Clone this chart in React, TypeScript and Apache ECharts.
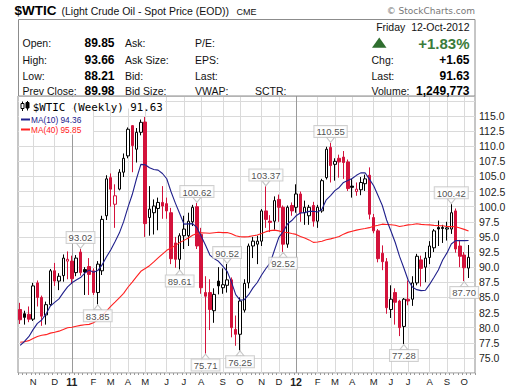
import React, { useEffect, useRef } from 'react';
import * as echarts from 'echarts';

// Weekly bars, each dated by the Monday of its week (first bar: week of 11-Oct-2010)
const firstMonday = [2010, 9, 11];
const barCount = 105;

const opens = [
  83.0, 82.3, 82.2, 81.4, 87.4, 85.0, 82.1, 83.8, 89.4, 87.7,
  88.6, 91.0, 91.0, 89.1, 92.5, 89.6, 90.1, 89.4, 85.8, 89.4,
  98.5, 104.8, 100.4, 102.9, 105.7, 108.4, 113.4, 109.5, 112.3, 114.0,
  98.2, 99.0, 99.7, 100.7, 100.5, 99.0, 94.0, 91.3, 95.2, 95.2,
  97.5, 100.0, 95.4, 85.8, 85.8, 82.8, 87.7, 86.6, 87.0, 87.9,
  79.7, 78.9, 82.9, 87.4, 93.5, 93.8, 94.3, 99.3, 97.6, 97.6,
  101.2, 99.9, 93.8, 100.2, 99.9, 102.1, 99.0, 98.5, 100.2, 97.6,
  99.3, 104.8, 109.8, 107.0, 108.0, 108.2, 107.4, 103.4, 102.5, 102.8,
  103.8, 105.2, 98.2, 96.0, 92.3, 90.9, 83.0, 85.8, 84.4, 80.2,
  84.7, 84.7, 87.4, 91.2, 90.0, 91.6, 93.2, 96.55, 96.55, 96.3,
  96.3, 99.3, 93.5, 92.0, 89.85,
];
const highs = [
  84.1, 82.8, 83.5, 87.4, 87.8, 85.3, 84.3, 89.7, 90.7, 89.0,
  92.1, 92.6, 91.9, 92.0, 93.02, 90.0, 91.5, 89.8, 91.0, 98.5,
  105.2, 105.5, 103.7, 106.2, 108.8, 113.1, 113.5, 113.0, 114.4, 114.83,
  103.4, 101.2, 101.5, 103.4, 101.5, 99.8, 95.0, 95.6, 98.5, 99.0,
  100.3, 100.62, 96.5, 88.5, 88.0, 86.5, 90.0, 89.8, 90.52, 88.3,
  82.0, 85.0, 88.0, 93.9, 95.0, 95.2, 99.6, 103.37, 98.6, 101.7,
  102.0, 100.2, 100.2, 100.7, 103.7, 102.5, 101.0, 100.3, 100.8, 100.3,
  104.6, 109.9, 110.55, 108.0, 108.6, 109.2, 107.8, 104.6, 104.0, 104.9,
  105.3, 106.5, 98.8, 96.3, 93.6, 91.5, 87.0, 86.5, 84.6, 84.9,
  87.8, 88.5, 92.2, 91.9, 92.5, 94.3, 96.3, 97.7, 97.0, 97.5,
  100.42, 99.7, 94.5, 92.5, 93.66,
];
const lows = [
  80.6, 80.5, 80.9, 81.1, 83.5, 80.3, 80.5, 83.6, 86.9, 86.2,
  87.6, 88.0, 87.2, 88.5, 88.6, 85.4, 85.4, 85.4, 83.85, 88.7,
  97.8, 100.0, 96.5, 102.7, 104.9, 108.0, 105.7, 107.3, 111.8, 95.0,
  95.2, 95.4, 96.1, 98.0, 98.0, 90.5, 89.9, 89.61, 93.0, 93.5,
  96.8, 93.0, 85.6, 75.71, 79.6, 80.8, 85.5, 85.6, 85.8, 78.4,
  77.0, 76.25, 82.5, 86.5, 91.5, 90.5, 93.5, 96.5, 95.8, 96.2,
  97.5, 92.52, 93.2, 98.5, 99.0, 97.5, 97.0, 97.0, 96.7, 96.5,
  99.0, 104.5, 104.0, 104.3, 104.8, 104.6, 102.6, 101.5, 101.8, 101.9,
  102.6, 97.9, 95.6, 90.8, 89.5, 82.3, 81.6, 80.5, 78.6, 77.28,
  83.7, 83.6, 87.0, 86.8, 87.5, 90.5, 92.5, 93.5, 94.0, 94.4,
  95.5, 92.4, 90.0, 87.70, 88.21,
];
const closes = [
  81.3, 81.7, 81.4, 86.9, 85.0, 81.9, 83.8, 89.4, 87.7, 88.5,
  91.5, 91.3, 88.1, 91.5, 89.1, 89.2, 88.8, 85.8, 90.5, 97.9,
  104.6, 102.9, 101.8, 105.7, 108.0, 112.8, 110.1, 112.3, 113.95, 97.2,
  99.6, 100.1, 100.7, 100.1, 99.3, 91.4, 91.3, 95.2, 96.3, 97.6,
  99.9, 93.5, 86.6, 85.2, 83.0, 85.5, 86.9, 87.1, 87.9, 80.0,
  78.9, 84.4, 87.3, 93.5, 94.3, 94.3, 99.3, 97.9, 97.4, 101.0,
  99.9, 93.8, 99.9, 99.3, 102.1, 99.0, 99.9, 99.9, 97.6, 99.9,
  104.3, 109.5, 106.8, 107.5, 107.4, 107.3, 103.0, 103.2, 102.9, 104.0,
  104.6, 98.75, 96.0, 91.4, 90.9, 83.3, 84.7, 84.2, 80.0, 84.7,
  84.4, 87.4, 91.8, 89.8, 91.5, 93.5, 96.0, 96.3, 96.4, 96.5,
  99.0, 93.0, 91.8, 89.9, 91.63,
];
// Weekly closes before the first visible bar (needed for the moving averages)
const priorCloses = [
  78.0, 74.54, 72.89, 71.19, 74.13, 79.81, 79.66, 81.5, 81.24, 80.68,
  80.0, 84.87, 84.92, 83.24, 85.12, 86.15, 75.11, 71.61, 70.04, 73.97,
  71.51, 73.78, 77.18, 78.86, 72.14, 76.09, 76.01, 78.98, 78.95, 80.7,
  75.39, 73.46, 75.17, 74.6, 76.45, 73.66, 76.49, 81.58, 82.66,
];

const calloutsAbove = [14, 41, 48, 57, 72, 100];
const calloutsBelow = [18, 37, 43, 51, 61, 89, 103];

const monthLetters = ['J', 'F', 'M', 'A', 'M', 'J', 'J', 'A', 'S', 'O', 'N', 'D'];

const headerLeft = [
  ['Open:', '89.85', 'Ask:', 'P/E:', ''],
  ['High:', '93.66', 'Ask Size:', 'EPS:', ''],
  ['Low:', '88.21', 'Bid:', 'Last:', ''],
  ['Prev Close:', '89.98', 'Bid Size:', 'VWAP:', 'SCTR:'],
];
const headerRight = [
  ['Chg:', '+1.65'],
  ['Last:', '91.63'],
  ['Volume:', '1,249,773'],
];
const legendRows = ['$WTIC (Weekly) 91.63', 'MA(10) 94.36', 'MA(40) 95.85'];

const RED = '#d3123b';
const BLUE = '#20208c';
const MA_RED = '#ff2020';

function buildWeeks(): { key: string; month: number; year: number }[] {
  const out: { key: string; month: number; year: number }[] = [];
  const t0 = Date.UTC(firstMonday[0], firstMonday[1], firstMonday[2]);
  for (let i = 0; i < barCount; i++) {
    const d = new Date(t0 + i * 7 * 86400000);
    out.push({ key: d.toISOString().slice(0, 10), month: d.getUTCMonth(), year: d.getUTCFullYear() });
  }
  return out;
}

function movingAverage(n: number): (number | null)[] {
  const all = [...priorCloses, ...closes];
  return closes.map((_, i) => {
    const end = priorCloses.length + i;
    if (end - n + 1 < 0) return null;
    let s = 0;
    for (let k = end - n + 1; k <= end; k++) s += all[k];
    return +(s / n).toFixed(2);
  });
}

const FONT = '"Liberation Sans", Arial, sans-serif';

function txt(text: string, x: number, y: number, font: string, fill = '#111', align = 'left', z = 10) {
  return {
    type: 'text',
    x,
    y,
    z,
    silent: true,
    style: { text, font, fill, align, verticalAlign: 'middle', textAlign: align, textVerticalAlign: 'middle' },
  };
}

export default function App() {
  const ref = useRef<HTMLDivElement>(null);

  useEffect(() => {
    if (!ref.current) return;
    const chart = echarts.init(ref.current, undefined, { renderer: 'svg' });
    const weeks = buildWeeks();
    const cats = [...weeks.map((w) => w.key), 'pad'];
    const monthStart = cats.map((_, i) => i > 0 && i < weeks.length && weeks[i].month !== weeks[i - 1].month);

    const candleData = closes.map((c, i) => {
      const o = opens[i];
      const prev = i === 0 ? priorCloses[priorCloses.length - 1] : closes[i - 1];
      const col = c < prev ? RED : '#000';
      const hollow = c >= o;
      return {
        value: [o, c, lows[i], highs[i]],
        itemStyle: {
          color: hollow ? '#fff' : col,
          color0: hollow ? '#fff' : col,
          borderColor: col,
          borderColor0: col,
          borderWidth: 1,
        },
      };
    });

    const ma10 = movingAverage(10);
    const ma40 = movingAverage(40);

    const gridLines = cats
      .map((k, i) => (monthStart[i] ? { xAxis: k, lineStyle: { color: weeks[i].month === 0 ? '#9a9a9a' : '#dadada', width: 1, type: 'solid' } } : null))
      .filter(Boolean);

    const calloutLabel = {
      show: true,
      fontSize: 9.5,
      fontFamily: FONT,
      color: '#222',
      backgroundColor: '#fff',
      borderColor: '#c4c4c4',
      borderWidth: 1,
      padding: [1, 2, 0, 2],
      distance: 0,
    };
    const callouts = [
      ...calloutsAbove.map((i) => ({
        value: [i, highs[i]],
        symbolRotate: 180,
        symbolOffset: [0, -3],
        label: { ...calloutLabel, position: 'top', formatter: highs[i].toFixed(2) },
      })),
      ...calloutsBelow.map((i) => ({
        value: [i, lows[i]],
        symbolRotate: 0,
        symbolOffset: [0, 3],
        label: { ...calloutLabel, position: 'bottom', formatter: lows[i].toFixed(2) },
      })),
    ];

    const graphic: any[] = [];
    // title line
    graphic.push(txt('$WTIC', 14.5, 10.5, `bold 13.5px ${FONT}`, '#000'));
    graphic.push(txt('(Light Crude Oil - Spot Price (EOD))', 61.5, 11, `10.5px ${FONT}`, '#111'));
    graphic.push(txt('CME', 236.5, 11.5, `9px ${FONT}`, '#111'));
    graphic.push(txt('© StockCharts.com', 475, 11, '9px "DejaVu Sans", sans-serif', '#777', 'right'));
    // header box
    graphic.push({
      type: 'rect',
      z: 5,
      silent: true,
      shape: { x: 18.5, y: 19.5, width: 456.5, height: 76.5 },
      style: { fill: '#fff', stroke: '#8c8c8c', lineWidth: 1 },
    });
    const rowY = [43, 59.7, 76.3, 91.3];
    headerLeft.forEach((row, r) => {
      graphic.push(txt(row[0], 22.5, rowY[r], `10.5px ${FONT}`));
      graphic.push(txt(row[1], 114.5, rowY[r], `bold 12px ${FONT}`, '#000', 'right'));
      graphic.push(txt(row[2], 125, rowY[r], `10.5px ${FONT}`));
      graphic.push(txt(row[3], 195, rowY[r], `10.5px ${FONT}`));
      if (row[4]) graphic.push(txt(row[4], 255, rowY[r], `10.5px ${FONT}`));
    });
    graphic.push(txt('Friday  12-Oct-2012', 469.5, 26.8, `10.5px ${FONT}`, '#111', 'right'));
    graphic.push({
      type: 'polygon',
      z: 10,
      silent: true,
      shape: { points: [[372, 47.8], [386.5, 47.8], [379.25, 37.6]] },
      style: { fill: '#2f6e2f' },
    });
    graphic.push(txt('+1.83%', 469.5, 43.2, `bold 15px ${FONT}`, '#3b7c3b', 'right'));
    headerRight.forEach((row, r) => {
      graphic.push(txt(row[0], 371.5, rowY[r + 1], `10.5px ${FONT}`));
      graphic.push(txt(row[1], 469.5, rowY[r + 1], `bold 12px ${FONT}`, '#000', 'right'));
    });
    // plot legend
    graphic.push({ type: 'rect', z: 10, silent: true, shape: { x: 19, y: 97, width: 146, height: 11.5 }, style: { fill: '#fff' } });
    graphic.push({ type: 'rect', z: 10, silent: true, shape: { x: 19, y: 108.5, width: 74, height: 26 }, style: { fill: '#fff' } });
    graphic.push({ type: 'line', z: 11, silent: true, shape: { x1: 22.5, y1: 101.5, x2: 22.5, y2: 111 }, style: { stroke: '#000', lineWidth: 1 } });
    graphic.push({ type: 'rect', z: 11, silent: true, shape: { x: 21, y: 103.5, width: 3, height: 5 }, style: { fill: '#fff', stroke: '#000', lineWidth: 1 } });
    graphic.push({ type: 'line', z: 11, silent: true, shape: { x1: 27.5, y1: 101, x2: 27.5, y2: 110.5 }, style: { stroke: '#000', lineWidth: 1 } });
    graphic.push({ type: 'rect', z: 11, silent: true, shape: { x: 26, y: 102.5, width: 3, height: 5.5 }, style: { fill: '#000', stroke: '#000', lineWidth: 1 } });
    graphic.push(txt(legendRows[0], 32.7, 107.8, '10.8px "DejaVu Sans Mono", monospace', '#000', 'left', 11));
    graphic.push({ type: 'line', z: 11, silent: true, shape: { x1: 21, y1: 119.5, x2: 30, y2: 119.5 }, style: { stroke: BLUE, lineWidth: 2 } });
    graphic.push(txt(legendRows[1], 31, 119.6, `8.3px ${FONT}`, BLUE, 'left', 11));
    graphic.push({ type: 'line', z: 11, silent: true, shape: { x1: 21, y1: 129.5, x2: 30, y2: 129.5 }, style: { stroke: MA_RED, lineWidth: 2 } });
    graphic.push(txt(legendRows[2], 31, 129.6, `8.3px ${FONT}`, MA_RED, 'left', 11));

    const option: any = {
      animation: false,
      textStyle: { fontFamily: FONT },
      grid: {
        left: 18,
        right: 42,
        top: 96,
        bottom: 19,
        show: true,
        borderColor: '#8c8c8c',
        borderWidth: 1,
        backgroundColor: '#fff',
        outerBoundsMode: 'none',
        containLabel: false,
      },
      xAxis: {
        type: 'category',
        data: cats,
        boundaryGap: true,
        axisLine: { show: false },
        axisTick: { show: true, interval: 0, length: 2, lineStyle: { color: '#999' } },
        splitLine: { show: false },
        axisLabel: {
          interval: (i: number) => monthStart[i],
          margin: 3,
          fontSize: 9.5,
          color: '#222',
          fontFamily: FONT,
          formatter: (_v: string, i: number) => {
            const w = weeks[i];
            if (!w) return '';
            if (w.month === 0) return `{y|${String(w.year).slice(2)}}`;
            return monthLetters[w.month];
          },
          rich: { y: { fontWeight: 'bold', fontSize: 10.5, color: '#222', fontFamily: FONT } },
        },
      },
      yAxis: {
        type: 'value',
        position: 'right',
        min: 72.5,
        max: 118.3,
        interval: 2.5,
        axisLine: { show: false },
        axisTick: { show: false },
        splitLine: { show: true, lineStyle: { color: '#dadada', width: 1 } },
        axisLabel: {
          margin: 4,
          fontSize: 10.5,
          color: '#222',
          fontFamily: FONT,
          formatter: (v: number) => {
            const k = v / 2.5;
            if (v < 74.9 || v > 115.1 || Math.abs(k - Math.round(k)) > 1e-6) return '';
            return v.toFixed(1);
          },
        },
      },
      series: [
        {
          type: 'line',
          name: 'grid',
          data: cats.map(() => null),
          z: 1,
          silent: true,
          showSymbol: false,
          markLine: {
            z: 1,
            silent: true,
            animation: false,
            symbol: ['none', 'none'],
            label: { show: false },
            emphasis: { disabled: true },
            lineStyle: { type: 'solid', width: 1, color: '#dadada' },
            data: gridLines,
          },
        },
        {
          type: 'candlestick',
          name: '$WTIC',
          data: candleData,
          barWidth: 3,
          z: 3,
          silent: true,
        },
        {
          type: 'line',
          name: 'MA(40)',
          data: ma40,
          showSymbol: false,
          symbol: 'none',
          z: 4,
          silent: true,
          lineStyle: { color: MA_RED, width: 1.1 },
        },
        {
          type: 'line',
          name: 'MA(10)',
          data: ma10,
          showSymbol: false,
          symbol: 'none',
          z: 4,
          silent: true,
          lineStyle: { color: BLUE, width: 1.1 },
        },
        {
          type: 'scatter',
          name: 'callouts',
          data: callouts,
          symbol: 'triangle',
          symbolSize: [8, 5],
          z: 6,
          silent: true,
          itemStyle: { color: '#fff', borderColor: '#b8b8b8', borderWidth: 1 },
        },
      ],
      graphic,
    };
    chart.setOption(option);
    return () => chart.dispose();
  }, []);

  return (
    <div
      ref={ref}
      style={{ position: 'absolute', left: 0, top: 0, width: 517, height: 392, background: '#fff' }}
    />
  );
}
